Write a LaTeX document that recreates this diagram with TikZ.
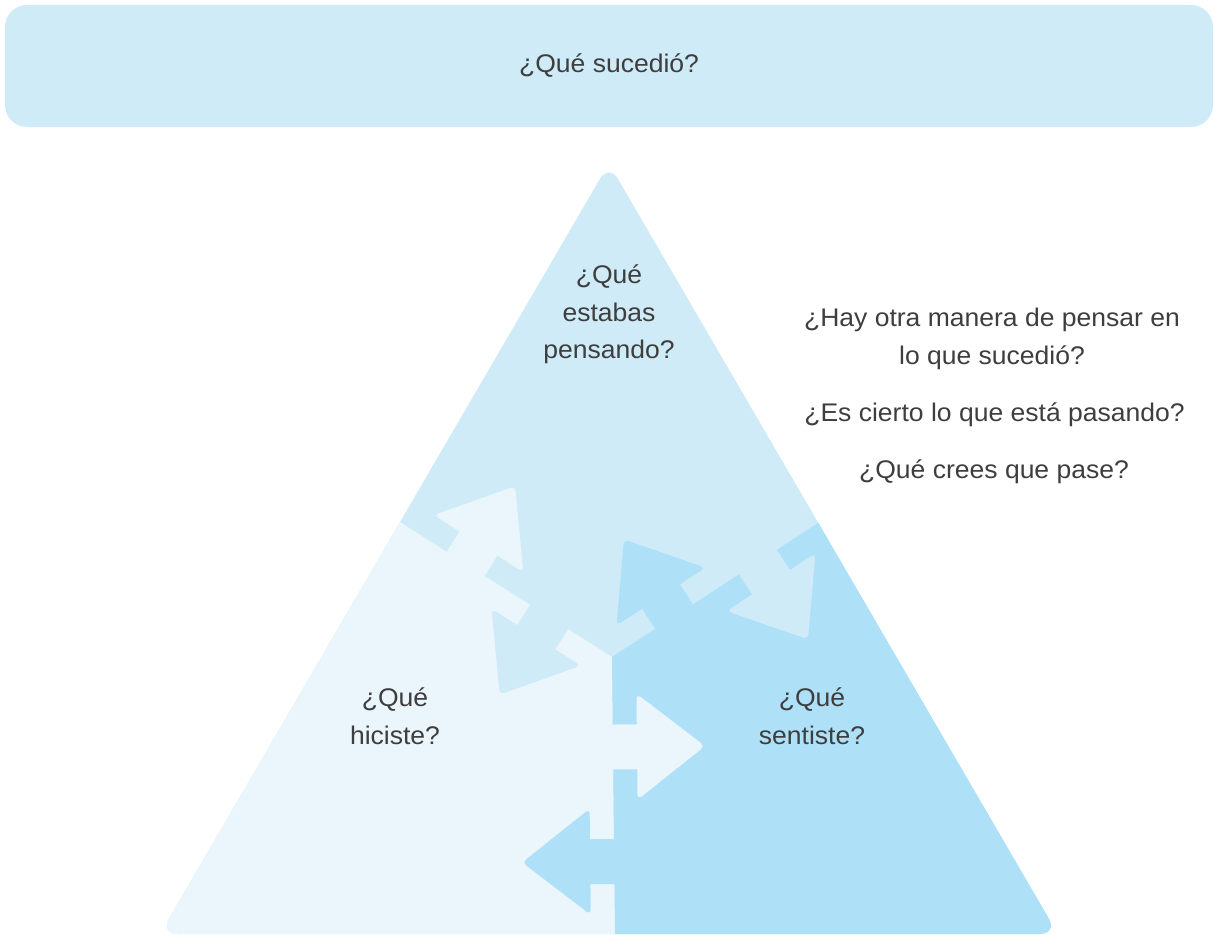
\documentclass[tikz,border=0pt]{standalone}
\usepackage{fontspec}
\setmainfont[FakeStretch=1.04]{Liberation Sans}
\definecolor{topc}{RGB}{207,235,247}
\definecolor{lightc}{RGB}{234,246,252}
\definecolor{darkc}{RGB}{174,225,248}
\definecolor{txt}{RGB}{62,62,62}
\tikzset{
  lbl/.style={text=txt, font=\fontsize{25.5}{37.5}\selectfont, align=center, inner sep=0pt},
  boxq/.style={fill=topc, rounded corners=22pt, minimum width=1208pt, minimum height=122pt, inner sep=0pt,
    text=txt, font=\fontsize{25.5}{37.5}\selectfont},
  jigarrow/.pic={
    \fill[#1] (-2,-22.5) rectangle (26,22.5);
    \fill[#1, rounded corners=5pt] (24,0) -- (24,-53) -- (92,0) -- (24,53) -- cycle;
  }
}
\begin{document}
\begin{tikzpicture}[x=1pt,y=-1pt]
\useasboundingbox (0,0) rectangle (1214,934);
% top box
\node[boxq] (q0) at (609,66) {¿Qué sucedió?};
% triangle
\coordinate (C) at (612,657);
\begin{scope}
  \clip[rounded corners=18pt] (609,934) -- (160,934) -- (608.9,163.4) -- (1057.8,934) -- cycle;
  \fill[topc] (0,140) rectangle (1214,960);
  \fill[lightc] (316.7,469) -- (C) -- (615.3,960) -- (0,960) -- (0,469) -- cycle;
  \fill[darkc] (C) -- (905.4,466.1) -- (1214,466.1) -- (1214,960) -- (615.3,960) -- cycle;
  % boundary top / left
  \pic[rotate=-122.5] at (549.15,616.98) {jigarrow=topc};
  \pic[rotate=57.5] at (465.64,563.8) {jigarrow=lightc};
  % boundary top / right
  \pic[rotate=123.0] at (674.04,616.64) {jigarrow=darkc};
  \pic[rotate=-57.0] at (757.88,562.1) {jigarrow=topc};
  % boundary left / right
  \pic[rotate=0.6] at (613,747) {jigarrow=lightc};
  \pic[rotate=180.6] at (614.2,861.5) {jigarrow=darkc};
\end{scope}
% labels
\node[lbl] (think) at (609,314.5) {¿Qué\\estabas\\pensando?};
\node[lbl] (did) at (395,716) {¿Qué\\hiciste?};
\node[lbl] (felt) at (812,716) {¿Qué\\sentiste?};
\node[lbl] (other) at (992,339) {¿Hay otra manera de pensar en\\lo que sucedió?};
\node[lbl] (true) at (994.5,414.5) {¿Es cierto lo que está pasando?};
\node[lbl] (next) at (994,471.5) {¿Qué crees que pase?};
\end{tikzpicture}
\end{document}
